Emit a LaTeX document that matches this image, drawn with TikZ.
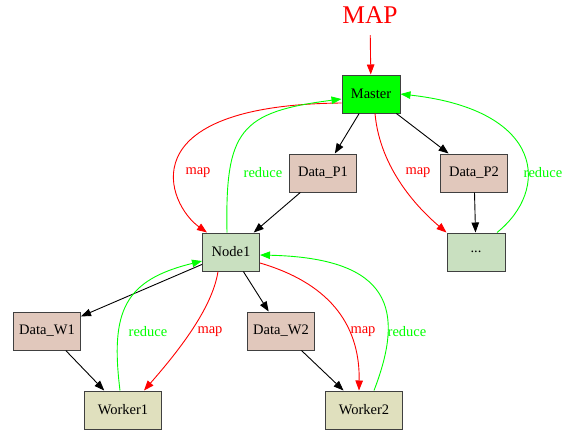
\documentclass[tikz,border=0pt]{standalone}
\usepackage{fontspec}
\setmainfont{Liberation Serif}
\usetikzlibrary{arrows.meta}
\definecolor{datafill}{RGB}{225,200,188}
\definecolor{nodefill}{RGB}{201,224,192}
\definecolor{workerfill}{RGB}{224,224,190}
\definecolor{hotgreen}{RGB}{0,255,0}
\begin{document}
\begin{tikzpicture}[x=1pt, y=1pt,
        font=\fontsize{14.5}{17}\selectfont,
        box/.style={draw=black!75, line width=1pt, rectangle, minimum height=38pt, inner sep=0pt},
        flow/.style={line width=0.9pt, -{Stealth[inset=0pt, length=10pt, width=7.5pt]}},
        mapedge/.style={flow, red},
        redge/.style={flow, hotgreen}]
    \useasboundingbox (0,0) rectangle (569,-431);

    \node[text=red, font=\fontsize{25.5}{28}\selectfont, minimum height=40pt] (map) at (370,-15) {MAP};
    \node[box, fill=hotgreen, minimum width=58pt] (master) at (371,-94) {Master};
    \node[box, fill=datafill, minimum width=67pt] (datap1) at (323,-173) {Data\_P1};
    \node[box, fill=datafill, minimum width=67pt] (datap2) at (474,-173) {Data\_P2};
    \node[box, fill=nodefill, minimum width=57pt] (node1) at (231,-252) {Node1};
    \node[box, fill=nodefill, minimum width=58pt] (more) at (476,-252) {...};
    \node[box, fill=datafill, minimum width=67pt] (dataw1) at (47,-331) {Data\_W1};
    \node[box, fill=datafill, minimum width=67pt] (dataw2) at (281,-331) {Data\_W2};
    \node[box, fill=workerfill, minimum width=77pt] (worker1) at (123,-410) {Worker1};
    \node[box, fill=workerfill, minimum width=77pt] (worker2) at (364,-410) {Worker2};

    \draw[mapedge] (map) -- (master);
    \draw[flow] (master) -- (datap1);
    \draw[flow] (master) -- (datap2);
    \draw[flow] (datap1) -- (node1);
    \draw[flow] (datap2) -- (more);
    \draw[flow] (node1) -- (dataw1);
    \draw[flow] (node1) -- (dataw2);
    \draw[flow] (dataw1) -- (worker1);
    \draw[flow] (dataw2) -- (worker2);

    \draw[mapedge] ([yshift=-9pt]master.west) .. controls (125,-105) and (168,-205) .. ([xshift=-24pt]node1.north)
        node[red] at (198,-173) {map};
    \draw[redge] ([xshift=-4pt]node1.north) .. controls (225,-130) and (240,-112) .. ([yshift=-5pt]master.west)
        node[hotgreen] at (263,-173) {reduce};
    \draw[mapedge] ([xshift=4pt]master.south) .. controls (380,-170) and (420,-210) .. (more.north west)
        node[red] at (418,-173) {map};
    \draw[redge] ([xshift=21pt]more.north) .. controls (550,-190) and (545,-110) .. (master.east)
        node[hotgreen] at (543,-173) {reduce};

    \draw[mapedge] ([xshift=-13pt]node1.south) .. controls (212,-310) and (175,-355) .. ([xshift=21pt]worker1.north)
        node[red] at (210,-332) {map};
    \draw[redge] ([xshift=-3pt]worker1.north) .. controls (110,-310) and (125,-280) .. ([yshift=-9pt]node1.west)
        node[hotgreen] at (148,-332) {reduce};
    \draw[mapedge] ([yshift=-11pt]node1.east) .. controls (335,-285) and (360,-330) .. ([xshift=-5pt]worker2.north)
        node[red] at (363,-332) {map};
    \draw[redge] ([xshift=10pt]worker2.north) .. controls (405,-310) and (392,-258) .. ([yshift=-3pt]node1.east)
        node[hotgreen] at (407,-332) {reduce};
\end{tikzpicture}
\end{document}
